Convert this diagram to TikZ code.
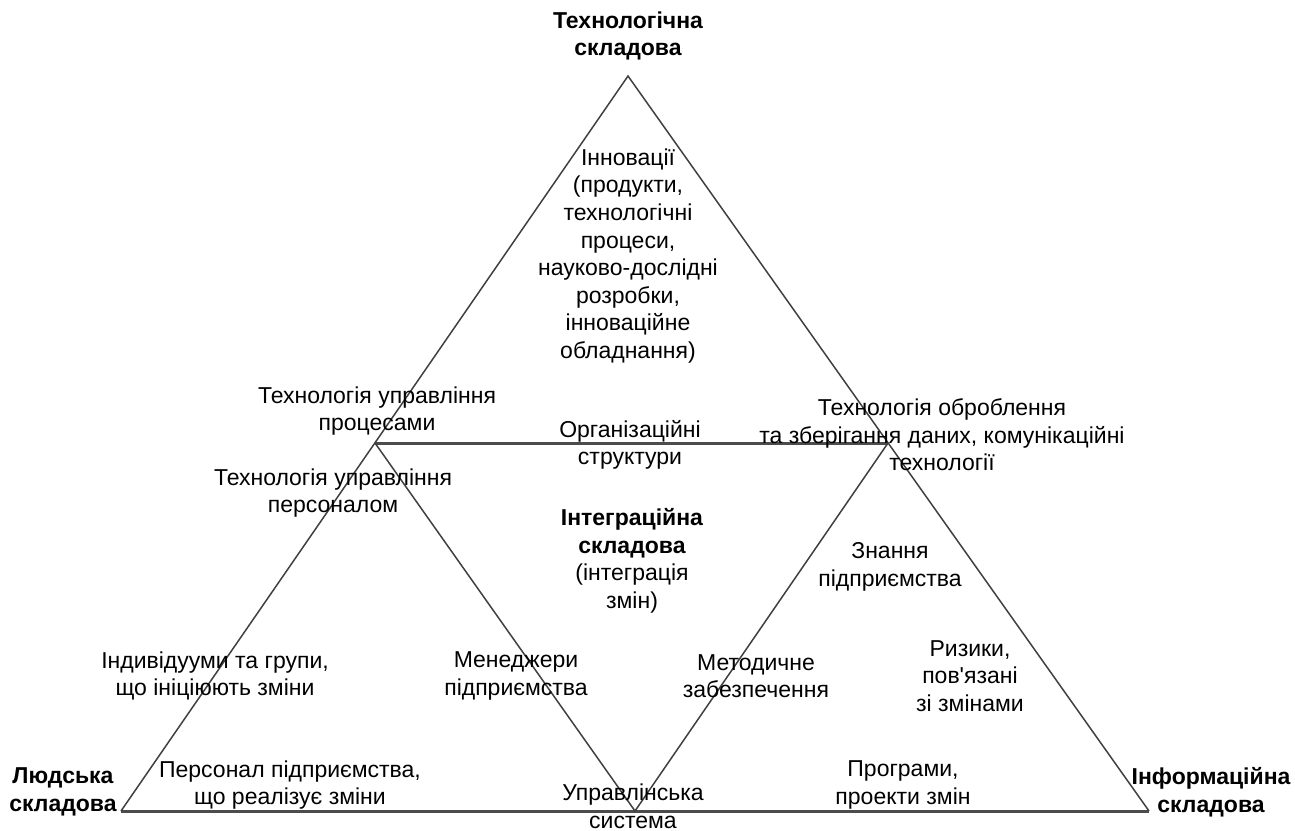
\documentclass[tikz,border=0pt]{standalone}
\usepackage{fontspec}
\setmainfont{Liberation Sans}
\begin{document}
\begin{tikzpicture}[x=0.5pt, y=-0.5pt,
    textnode/.style={align=center, inner sep=0pt, font=\fontsize{11.5}{13.8}\selectfont},
    headnode/.style={textnode, font=\fontsize{11.5}{13.8}\selectfont\bfseries},
    edge/.style={draw=black!75, line width=0.75pt},
    bar/.style={draw=black!70, line width=1.5pt}]
    \useasboundingbox (0,0) rectangle (1295,830);
    % Place vertices
    \coordinate (top) at (628,76);
    \coordinate (hl)  at (375,443);
    \coordinate (hr)  at (888,443);
    \coordinate (bl)  at (121,811);
    \coordinate (bm)  at (635,811);
    \coordinate (br)  at (1149,811);
    % Draw triangles
    \draw[bar]  (hl) -- (hr);
    \draw[bar]  (bl) -- (br);
    \draw[edge] (bl) -- (top) -- (br);
    \draw[edge] (hl) -- (bm) -- (hr);
    % Corner labels
    \node[headnode] (tech)  at (628,36)   {Технологічна\\складова};
    \node[headnode] (human) at (63,792)   {Людська\\складова};
    \node[headnode] (info)  at (1211,792) {Інформаційна\\складова};
    % Inner labels
    \node[textnode] (innov)  at (628,256) {Інновації\\(продукти,\\технологічні\\процеси,\\науково-дослідні\\розробки,\\інноваційне\\обладнання)};
    \node[textnode] (proc)   at (377,411) {Технологія управління\\процесами};
    \node[textnode] (org)    at (630,445) {Організаційні\\структури};
    \node[textnode] (data)   at (942,435) {Технологія оброблення\\та зберігання даних, комунікаційні\\технології};
    \node[textnode] (pers)   at (333,493) {Технологія управління\\персоналом};
    \node[textnode] (integr) at (632,561) {\textbf{Інтеграційна}\\\textbf{складова}\\(інтеграція\\змін)};
    \node[textnode] (know)   at (890,567) {Знання\\підприємства};
    \node[textnode] (indiv)  at (215,676) {Індивідууми та групи,\\що ініціюють зміни};
    \node[textnode] (manag)  at (516,676) {Менеджери\\підприємства};
    \node[textnode] (method) at (756,676) {Методичне\\забезпечення};
    \node[textnode] (risk)   at (970,676) {Ризики,\\пов\textquotesingle язані\\зі змінами};
    \node[textnode] (staff)  at (290,785) {Персонал підприємства,\\що реалізує зміни};
    \node[textnode] (system) at (633,806) {Управлінська\\система};
    \node[textnode] (progr)  at (903,785) {Програми,\\проекти змін};
\end{tikzpicture}
\end{document}
